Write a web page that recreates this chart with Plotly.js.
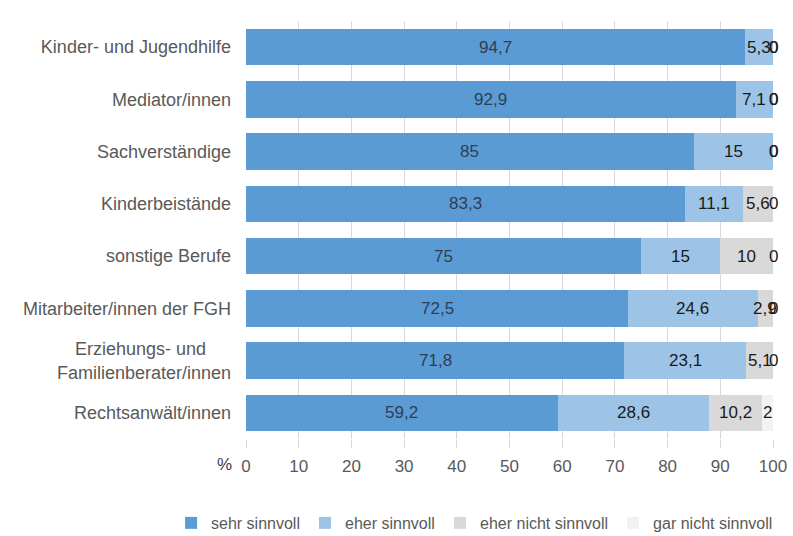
<!DOCTYPE html>
<html>
<head>
<meta charset="utf-8">
<script src="https://cdn.plot.ly/plotly-3.0.1.min.js"></script>
<style>html,body{margin:0;padding:0;background:#fff;}#chart{width:793px;height:536px;}</style>
</head>
<body>
<div id="chart"></div>
<script>
var categories = ["Kinder- und Jugendhilfe", "Mediator/innen", "Sachverständige", "Kinderbeistände", "sonstige Berufe", "Mitarbeiter/innen der FGH", "Erziehungs- und\u00a0\u00a0\u00a0\u00a0\u00a0<br>Familienberater/innen", "Rechtsanwält/innen"];
var seriesNames = ["sehr sinnvoll", "eher sinnvoll", "eher nicht sinnvoll", "gar nicht sinnvoll"];
var sehrSinnvoll = [94.7, 92.9, 85, 83.3, 75, 72.5, 71.8, 59.2];
var eherSinnvoll = [5.3, 7.1, 15, 11.1, 15, 24.6, 23.1, 28.6];
var eherNichtSinnvoll = [0, 0, 0, 5.6, 10, 2.9, 5.1, 10.2];
var garNichtSinnvoll = [0, 0, 0, 0, 0, 0, 0, 2];
var xTicks = [0, 10, 20, 30, 40, 50, 60, 70, 80, 90, 100];

var series = [sehrSinnvoll, eherSinnvoll, eherNichtSinnvoll, garNichtSinnvoll];
var colors = ["#5B9BD5", "#9DC3E6", "#D9D9D9", "#F2F2F2"];
var labelColors = ["#2e3e52", "#1a1a1a", "#1a1a1a", "#1a1a1a"];
var legendGroups = ["legend", "legend", "legend2", "legend2"];
var font = "Liberation Sans, Arial, sans-serif";

var traces = series.map(function (vals, i) {
  return {
    type: "bar", orientation: "h", name: seriesNames[i],
    x: vals, y: categories, legend: legendGroups[i],
    marker: {color: colors[i]},
    hoverinfo: "x+name"
  };
});

var annotations = [];
var cum = categories.map(function () { return 0; });
series.forEach(function (vals, i) {
  vals.forEach(function (v, j) {
    var center = cum[j] + v / 2;
    cum[j] += v;
    annotations.push({
      x: center, y: categories[j], xref: "x", yref: "y",
      text: String(v).replace(".", ","), showarrow: false,
      font: {family: font, size: 17, color: labelColors[i]},
      xanchor: "center", yanchor: "middle"
    });
  });
});
annotations.push({
  x: -0.04, y: -0.062, xref: "paper", yref: "paper", text: "%", showarrow: false,
  font: {family: font, size: 17, color: "#404040"}, xanchor: "center", yanchor: "middle"
});

var legendBase = {
  orientation: "h", xref: "container", xanchor: "left",
  yref: "container", y: 0.0243, yanchor: "middle",
  font: {family: font, size: 16, color: "#595959"},
  traceorder: "normal", itemwidth: 30, bgcolor: "rgba(0,0,0,0)"
};

var layout = {
  width: 793, height: 536,
  margin: {l: 246, r: 20, t: 21, b: 97},
  paper_bgcolor: "#fff", plot_bgcolor: "#fff",
  barmode: "stack", bargap: 0.3,
  showlegend: true,
  font: {family: font, size: 17, color: "#595959"},
  xaxis: {
    range: [0, 100], tickvals: xTicks, ticktext: xTicks.map(String),
    showgrid: true, gridcolor: "#D9D9D9", gridwidth: 1,
    ticks: "outside", ticklen: 8, tickcolor: "#D9D9D9",
    ticklabelstandoff: 4,
    zeroline: false, showline: false,
    tickfont: {family: font, size: 17, color: "#595959"}, fixedrange: true
  },
  yaxis: {
    autorange: "reversed", type: "category",
    showgrid: false, zeroline: false, showline: false, ticks: "",
    ticklabelstandoff: 14,
    tickfont: {family: font, size: 18, color: "#595959"}, fixedrange: true
  },
  legend: Object.assign({}, legendBase, {x: 0.2157}),
  legend2: Object.assign({}, legendBase, {x: 0.5549}),
  annotations: annotations
};

Plotly.newPlot("chart", traces, layout, {displayModeBar: false, staticPlot: true});
</script>
</body>
</html>
